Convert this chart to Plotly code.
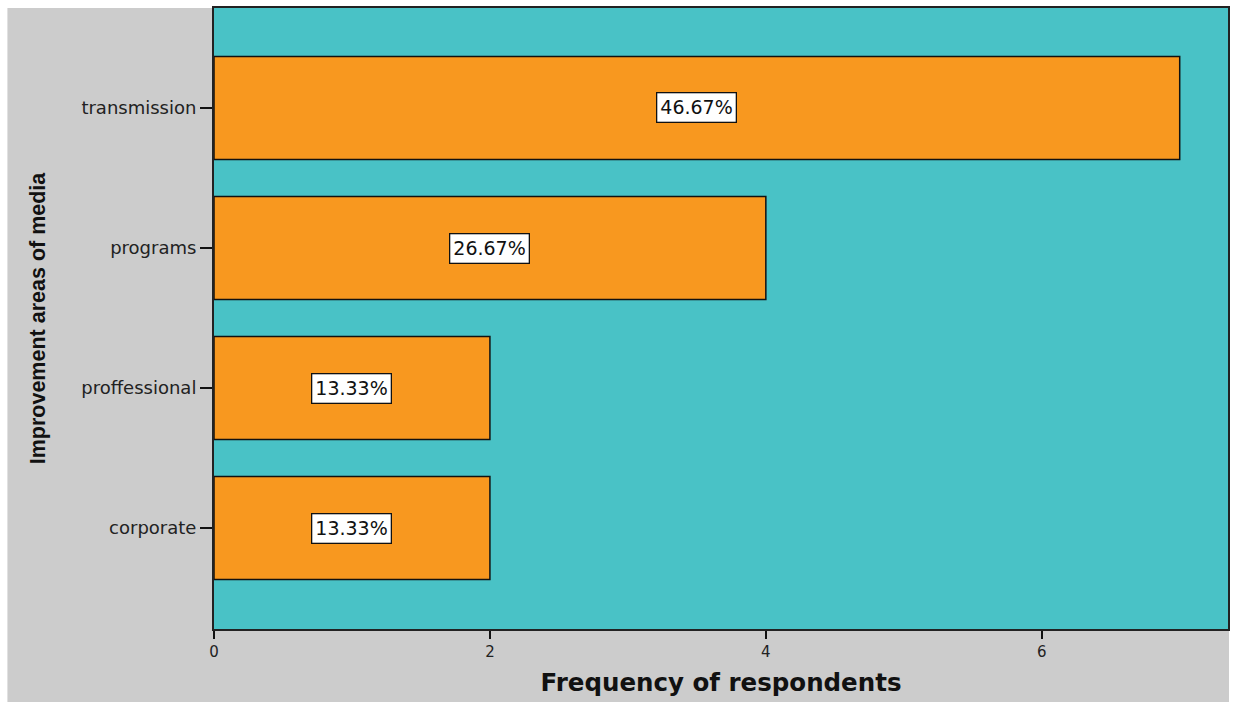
import plotly.graph_objects as go

# Survey results: areas of the media that respondents think need improvement
categories = ["corporate", "proffessional", "programs", "transmission"]
frequencies = [2, 2, 4, 7]
x_ticks = [0, 2, 4, 6]

total = sum(frequencies)
percent_labels = [f"{100 * f / total:.2f}%" for f in frequencies]

W, H = 1236, 702
L, R, T, B = 214, 6, 8, 73
plot_w, plot_h = W - L - R, H - T - B

TEAL = "#49C2C6"
ORANGE = "#F8981F"
GREY = "#CCCCCC"

fig = go.Figure(
    go.Bar(
        x=frequencies,
        y=categories,
        orientation="h",
        width=0.736,
        marker=dict(color=ORANGE, line=dict(color="#111111", width=1.5)),
        hoverinfo="x+y",
    )
)

# Percentage boxes in the middle of each bar
for cat, freq, lab in zip(categories, frequencies, percent_labels):
    fig.add_annotation(
        x=freq / 2, y=cat, text=lab, showarrow=False,
        font=dict(family="DejaVu Sans, Arial", size=19, color="#111111"),
        bgcolor="white", bordercolor="#111111", borderwidth=1.3, borderpad=3,
    )

# Grey panel behind the whole chart, then the teal plotting area on top of it
fig.add_shape(
    type="rect", xref="paper", yref="paper", layer="below",
    x0=(7 - L) / plot_w, x1=(1231 - L) / plot_w,
    y0=(H - B - 702) / plot_h, y1=1,
    fillcolor=GREY, line=dict(width=0),
)
fig.add_shape(
    type="rect", xref="paper", yref="paper", layer="below",
    x0=0, x1=1, y0=0, y1=1,
    fillcolor=TEAL, line=dict(width=0),
)

fig.update_layout(
    width=W, height=H,
    margin=dict(l=L, r=R, t=T, b=B, pad=0),
    paper_bgcolor="white",
    plot_bgcolor=TEAL,
    showlegend=False,
    bargap=0.264,
    font=dict(family="DejaVu Sans, Arial", color="#222222"),
)

fig.update_xaxes(
    range=[0, 7.35],
    tickvals=x_ticks,
    ticks="outside", ticklen=8, tickwidth=2, tickcolor="#111111",
    tickfont=dict(family="DejaVu Sans, Arial", size=15, color="#222222"),
    showgrid=False, zeroline=False,
    showline=True, linecolor="#222222", linewidth=2, mirror=True,
    title=dict(
        text="<b>Frequency of respondents</b>",
        font=dict(family="DejaVu Sans, Arial", size=24.5, color="#111111"),
        standoff=14,
    ),
)

fig.update_yaxes(
    categoryorder="array", categoryarray=categories,
    range=[-0.721, 3.714],
    ticks="outside", ticklen=12, tickwidth=2, tickcolor="#111111",
    tickfont=dict(family="DejaVu Sans, Arial", size=18, color="#222222"),
    showgrid=False, zeroline=False,
    showline=True, linecolor="#222222", linewidth=2, mirror=True,
    title=dict(
        text="<b>Improvement areas of media</b>",
        font=dict(family="Liberation Sans Narrow, Liberation Sans, Arial", size=21.5, color="#111111"),
        standoff=30,
    ),
)

fig.write_html("out.html")
